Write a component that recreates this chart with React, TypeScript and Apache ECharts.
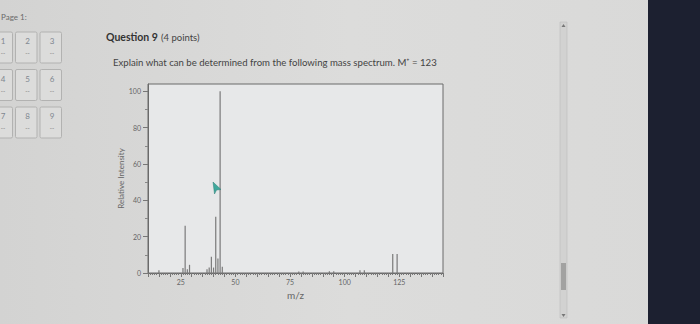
import React, { useEffect, useRef } from "react";
import * as echarts from "echarts";

// m/z values and relative intensities
const mzValues = [15, 26, 27, 28, 29, 37, 38, 39, 40, 41, 42, 43, 44, 79, 81, 93, 95, 107, 109, 122, 124];
const intensities = [1.5, 2.7, 26, 2, 4.5, 2, 3, 9, 3, 31, 8, 100, 3.5, 0.8, 0.8, 1, 1, 1.5, 1.5, 10.5, 10.5];

const xLabelValues = [25, 50, 75, 100, 125];
const yLabelValues = [0, 20, 40, 60, 80, 100];
const yMinorValues = [10, 30, 50, 70, 90];
const xMin = 10;
const xMax = 145;
const yMax = 104;

const navNumbers = ["1", "2", "3", "4", "5", "6", "7", "8", "9"];
const pageLabel = "Page 1:";
const titleBold = "Question 9";
const titlePoints = "(4 points)";
const promptText = "Explain what can be determined from the following mass spectrum. M\u207A = 123";

const FONT = "Lato, 'Open Sans', sans-serif";

export default function App() {
  const ref = useRef<HTMLDivElement>(null);

  useEffect(() => {
    if (!ref.current) return;
    const chart = echarts.init(ref.current, null, { renderer: "svg" });

    const minorTicks: number[] = [];
    for (let v = xMin; v <= xMax; v++) minorTicks.push(v);
    const majorTicks: number[] = [];
    for (let v = xMin; v <= xMax; v += 5) majorTicks.push(v);

    const nav: any[] = [];
    navNumbers.forEach((n, i) => {
      const col = i % 3;
      const row = Math.floor(i / 3);
      const bx = -9 + col * 24.5;
      const by = 32 + row * 37.5;
      nav.push({
        type: "rect",
        shape: { x: bx, y: by, width: 21.5, height: 31, r: 1.5 },
        style: { fill: "#dcdcdb", stroke: "#b2b2b1", lineWidth: 1 },
        silent: true,
      });
      nav.push({
        type: "text",
        style: {
          x: bx + 12,
          y: by + 9,
          text: n,
          fill: "#7f8790",
          font: `8px ${FONT}`,
          align: "center",
          verticalAlign: "middle",
        },
        silent: true,
      });
      nav.push({
        type: "text",
        style: {
          x: bx + 12,
          y: by + 20.5,
          text: "--",
          fill: "#8f8f8f",
          font: `bold 6px ${FONT}`,
          align: "center",
          verticalAlign: "middle",
        },
        silent: true,
      });
    });

    chart.setOption({
      animation: false,
      backgroundColor: "#d8d8d7",
      graphic: [
        {
          type: "rect",
          z: -10,
          shape: { x: 0, y: 0, width: 700, height: 324 },
          style: {
            fill: {
              type: "linear",
              x: 0, y: 0, x2: 1, y2: 0,
              colorStops: [
                { offset: 0, color: "#d3d3d2" },
                { offset: 0.5, color: "#dcdcdb" },
                { offset: 1, color: "#d9d9d8" },
              ],
            },
          },
          silent: true,
        },
        {
          type: "text",
          style: { x: 1, y: 17, text: pageLabel, fill: "#6a6a6a", font: `8px ${FONT}`, verticalAlign: "middle" },
          silent: true,
        },
        ...nav,
        {
          type: "text",
          style: { x: 106, y: 37, text: titleBold, fill: "#333", font: `bold 10.5px ${FONT}`, verticalAlign: "middle" },
          silent: true,
        },
        {
          type: "text",
          style: { x: 161, y: 37, text: titlePoints, fill: "#444", font: `9.5px ${FONT}`, verticalAlign: "middle" },
          silent: true,
        },
        {
          type: "text",
          style: { x: 113, y: 62, text: promptText, fill: "#444", font: `9.6px ${FONT}`, verticalAlign: "middle" },
          silent: true,
        },
        // scrollbar
        {
          type: "rect",
          shape: { x: 560, y: 22, width: 7, height: 296 },
          style: { fill: "#d2d2d1", stroke: "#bdbdbc", lineWidth: 0.6 },
          silent: true,
        },
        {
          type: "rect",
          shape: { x: 561, y: 263, width: 5, height: 27 },
          style: { fill: "#a2a2a1" },
          silent: true,
        },
        {
          type: "polygon",
          shape: { points: [[563.5, 24], [561.5, 27], [565.5, 27]] },
          style: { fill: "#777" },
          silent: true,
        },
        {
          type: "polygon",
          shape: { points: [[563.5, 317], [561.5, 314], [565.5, 314]] },
          style: { fill: "#777" },
          silent: true,
        },
        // dark area on the right
        {
          type: "rect",
          shape: { x: 648, y: 0, width: 52, height: 324 },
          style: { fill: "#1c2030" },
          silent: true,
        },
        // mouse cursor
        {
          type: "polygon",
          z: 100,
          shape: { points: [[213, 182], [221, 189.5], [216.5, 190], [214.5, 194]] },
          style: { fill: "#3fa89c", stroke: "#2f7f76", lineWidth: 0.5 },
          silent: true,
        },
      ],
      grid: {
        left: 148,
        top: 84,
        width: 295,
        height: 189,
        show: true,
        backgroundColor: "#e7e8e9",
        borderColor: "#6a6a6a",
        borderWidth: 1,
      },
      xAxis: [
        {
          type: "value",
          min: xMin,
          max: xMax,
          position: "bottom",
          name: "m/z",
          nameLocation: "middle",
          nameGap: 17,
          nameTextStyle: { fontFamily: FONT, fontSize: 10, color: "#666" },
          axisLine: { show: true, lineStyle: { color: "#6a6a6a", width: 1 } },
          axisTick: { show: true, customValues: minorTicks, length: 2, lineStyle: { color: "#777" } },
          axisLabel: {
            customValues: xLabelValues,
            margin: 5,
            fontFamily: FONT,
            fontSize: 7,
            color: "#666",
          },
          splitLine: { show: false },
        },
        {
          type: "value",
          min: xMin,
          max: xMax,
          position: "bottom",
          axisLine: { show: false },
          axisTick: { show: true, customValues: majorTicks, length: 4, lineStyle: { color: "#777" } },
          axisLabel: { show: false },
          splitLine: { show: false },
        },
      ],
      yAxis: [
        {
          type: "value",
          min: 0,
          max: yMax,
          position: "left",
          name: "Relative Intensity",
          nameLocation: "middle",
          nameRotate: 90,
          nameGap: 23,
          nameTextStyle: { fontFamily: FONT, fontSize: 8, color: "#666" },
          axisLine: { show: true, lineStyle: { color: "#6a6a6a", width: 1 } },
          axisTick: { show: true, customValues: yLabelValues, length: 5, lineStyle: { color: "#777" } },
          axisLabel: { customValues: yLabelValues, margin: 7, fontFamily: FONT, fontSize: 7, color: "#666" },
          splitLine: { show: false },
        },
        {
          type: "value",
          min: 0,
          max: yMax,
          position: "left",
          offset: 0,
          axisLine: { show: false },
          axisTick: { show: true, customValues: yMinorValues, length: 3, lineStyle: { color: "#888" } },
          axisLabel: { show: false },
          splitLine: { show: false },
        },
      ],
      series: [
        {
          type: "bar",
          xAxisIndex: 0,
          yAxisIndex: 0,
          barWidth: 1.2,
          itemStyle: { color: "#7a7a7a" },
          data: mzValues.map((m, i) => [m, intensities[i]]),
        },
      ],
    });

    return () => chart.dispose();
  }, []);

  return (
    <div
      ref={ref}
      style={{ position: "fixed", left: 0, top: 0, width: 700, height: 324 }}
    />
  );
}
